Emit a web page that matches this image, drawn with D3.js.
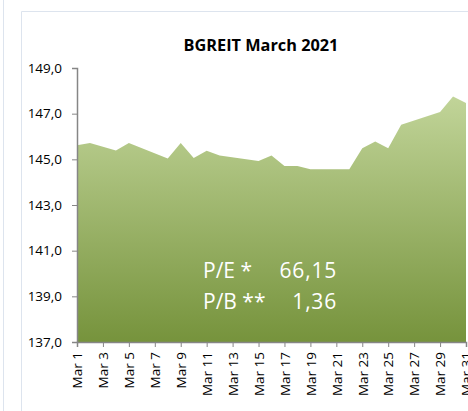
<!DOCTYPE html>
<html>
<head>
<meta charset="utf-8">
<script src="https://cdn.jsdelivr.net/npm/d3@7"></script>
<style>
  body { margin: 0; background: #fff; }
  svg { display: block; font-family: "Open Sans", sans-serif; }
</style>
</head>
<body>
<svg width="468" height="411"></svg>
<script>
var svg = d3.select("svg"),
    width = +svg.attr("width"),
    height = +svg.attr("height");

// trading days in March 2021 and closing index values
var days = ["2021-03-01", "2021-03-02", "2021-03-04", "2021-03-05", "2021-03-08",
            "2021-03-09", "2021-03-10", "2021-03-11", "2021-03-12", "2021-03-15",
            "2021-03-16", "2021-03-17", "2021-03-18", "2021-03-19", "2021-03-22",
            "2021-03-23", "2021-03-24", "2021-03-25", "2021-03-26", "2021-03-29",
            "2021-03-30", "2021-03-31"];
var values = [145.62, 145.71, 145.39, 145.71, 145.04,
              145.71, 145.06, 145.38, 145.17, 144.93,
              145.17, 144.71, 144.71, 144.57, 144.57,
              145.48, 145.78, 145.48, 146.52, 147.07,
              147.75, 147.47];
var yTicks = [137, 139, 141, 143, 145, 147, 149];
var title = "BGREIT March 2021";
var ratioNames = ["P/E *", "P/B **"];
var ratioValues = ["66,15", "1,36"];

var parse = d3.timeParse("%Y-%m-%d");
var data = days.map(function(d, i) { return { date: parse(d), value: values[i] }; });

var x = d3.scaleTime()
    .domain([parse("2021-03-01"), parse("2021-03-31")])
    .range([77, 466]);

var y = d3.scaleLinear()
    .domain([137, 149])
    .range([342, 68]);

// chart frame lines
svg.append("line")
    .attr("x1", 3.5).attr("x2", 3.5).attr("y1", 0).attr("y2", height)
    .attr("stroke", "#dde4ee").attr("stroke-width", 1);
svg.append("path")
    .attr("d", "M21.5," + height + "V11.5H" + width)
    .attr("fill", "none")
    .attr("stroke", "#dde4ee").attr("stroke-width", 1);

var grad = svg.append("defs").append("linearGradient")
    .attr("id", "fillGrad")
    .attr("gradientUnits", "userSpaceOnUse")
    .attr("x1", 0).attr("x2", 0)
    .attr("y1", y(148)).attr("y2", y(137));
grad.append("stop").attr("offset", "0%").attr("stop-color", "#c3d69b");
grad.append("stop").attr("offset", "100%").attr("stop-color", "#76933c");

var area = d3.area()
    .x(function(d) { return x(d.date); })
    .y0(y(137))
    .y1(function(d) { return y(d.value); });

svg.append("path")
    .datum(data)
    .attr("fill", "url(#fillGrad)")
    .attr("d", area);

// y axis
var yAxis = svg.append("g")
    .attr("transform", "translate(" + x.range()[0] + ",0)")
    .call(d3.axisLeft(y)
        .tickValues(yTicks)
        .tickSize(5)
        .tickPadding(10)
        .tickFormat(function(d) { return d3.format(".1f")(d).replace(".", ","); }));
yAxis.select(".domain").attr("stroke", "#868686").attr("stroke-width", 1.5);
yAxis.selectAll(".tick line").attr("stroke", "#868686");
yAxis.selectAll(".tick text")
    .attr("font-size", 13.5)
    .attr("font-family", "'Open Sans', sans-serif")
    .attr("fill", "#000");

// x axis
var xAxis = svg.append("g")
    .attr("transform", "translate(0," + y(137) + ")")
    .call(d3.axisBottom(x)
        .ticks(d3.timeDay.every(2))
        .tickSize(5)
        .tickFormat(d3.timeFormat("%b %-d")));
xAxis.select(".domain").attr("stroke", "#868686").attr("stroke-width", 1.5);
xAxis.selectAll(".tick line").attr("stroke", "#868686");
xAxis.selectAll(".tick text")
    .attr("font-size", 13.5)
    .attr("font-family", "'Open Sans', sans-serif")
    .attr("fill", "#000")
    .attr("text-anchor", "end")
    .attr("transform", "rotate(-90)")
    .attr("x", -10)
    .attr("y", 0)
    .attr("dy", "0.35em");

svg.append("text")
    .attr("x", 261)
    .attr("y", 51)
    .attr("text-anchor", "middle")
    .attr("font-size", 16.3)
    .attr("font-weight", "bold")
    .text(title);

var notes = svg.append("g")
    .attr("fill", "#fff")
    .attr("font-size", 21);

notes.selectAll(".name")
    .data(ratioNames)
    .enter().append("text")
    .attr("class", "name")
    .attr("x", 203)
    .attr("y", function(d, i) { return 278 + i * 31; })
    .text(function(d) { return d; });

notes.selectAll(".val")
    .data(ratioValues)
    .enter().append("text")
    .attr("class", "val")
    .attr("x", 337)
    .attr("y", function(d, i) { return 278 + i * 31; })
    .attr("text-anchor", "end")
    .attr("letter-spacing", 0.8)
    .text(function(d) { return d; });
</script>
</body>
</html>
